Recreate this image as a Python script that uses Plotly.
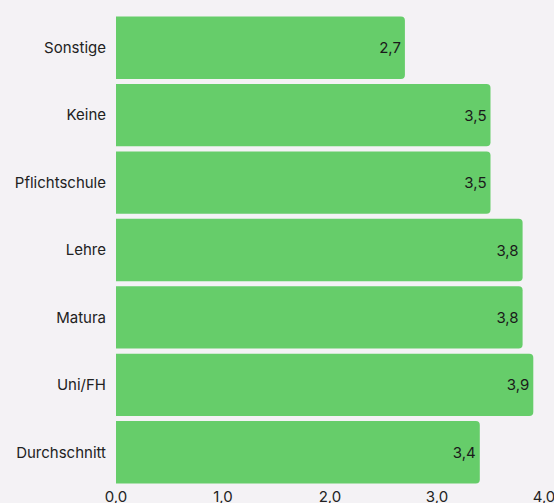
import plotly.graph_objects as go

categories = ["Sonstige", "Keine", "Pflichtschule", "Lehre", "Matura", "Uni/FH", "Durchschnitt"]
values = [2.7, 3.5, 3.5, 3.8, 3.8, 3.9, 3.4]
x_ticks = [0, 1, 2, 3, 4]

FONT = "Inter"
FS = 15

fig = go.Figure(go.Bar(
    y=categories,
    x=values,
    orientation="h",
    marker=dict(color="#66cd6a", line=dict(width=0)),
    texttemplate="%{x:.1f}",
    textposition="inside",
    insidetextanchor="end",
    textfont=dict(color="#1a1a1a", size=FS, family=FONT),
    cliponaxis=False,
))

fig.update_layout(
    width=554, height=503,
    margin=dict(l=116, r=10, t=14, b=17, autoexpand=False),
    paper_bgcolor="#f4f2f5",
    plot_bgcolor="#f4f2f5",
    bargap=0.075,
    barcornerradius=4,
    separators=",.",
    font=dict(family=FONT, size=FS, color="#222222"),
    showlegend=False,
)
fig.update_xaxes(range=[0, 4], tickvals=x_ticks, tickformat=".1f",
                 showgrid=False, zeroline=False, showline=False, automargin=False,
                 ticklabeloverflow="allow",
                 tickfont=dict(size=FS), ticks="", fixedrange=True)
fig.update_yaxes(categoryorder="array", categoryarray=categories[::-1],
                 showgrid=False, zeroline=False, showline=False, automargin=False,
                 ticks="", ticklabelstandoff=9, tickfont=dict(size=FS))

# remove the browser's default 8px page margin so the figure fills the window
fig.write_html("out.html",
               config={"displayModeBar": False},
               post_script="document.body.style.margin='0';document.body.style.overflow='hidden';")
